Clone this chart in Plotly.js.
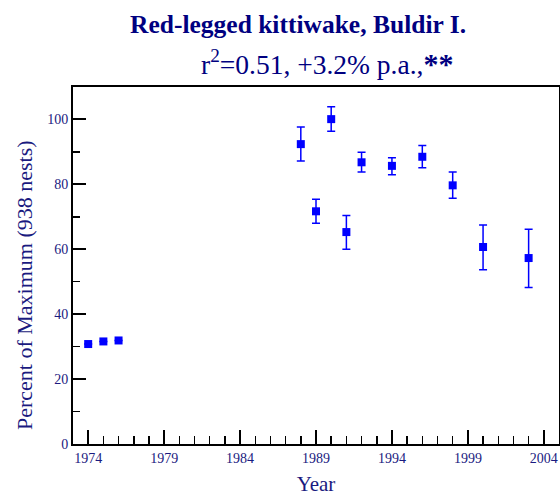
<!DOCTYPE html>
<html>
<head>
<meta charset="utf-8">
<script src="https://cdn.plot.ly/plotly-3.0.1.min.js"></script>
<style>html,body{margin:0;padding:0;background:#fff;}#chart{width:560px;height:500px;}</style>
</head>
<body>
<div id="chart"></div>
<script>
const years = [1974, 1975, 1976, 1988, 1989, 1990, 1991, 1992, 1994, 1996, 1998, 2000, 2003];
const percent = [30.8, 31.6, 31.9, 92.4, 71.7, 100.1, 65.3, 86.8, 85.7, 88.5, 79.7, 60.7, 57.3];
const errPlus = [0, 0, 0, 5.3, 3.7, 3.8, 5.1, 3.1, 2.5, 3.5, 4.1, 6.8, 8.9];
const errMinus = [0, 0, 0, 5.2, 3.7, 3.7, 5.3, 3.0, 2.7, 3.4, 4.0, 7.0, 9.1];
const xTickVals = [1974, 1979, 1984, 1989, 1994, 1999, 2004];
const titleLine1 = '<b>Red-legged kittiwake, Buldir I.</b>';
const titleLine2 = 'r<sup>2</sup>=0.51, +3.2% p.a.,<b><span style="font-size:30px">**</span></b>';
const yTitle = 'Percent of Maximum (938 nests)';

const navy = '#1a1a80';
const serif = 'Liberation Serif, Times New Roman, serif';
const trace = {
  x: years, y: percent, type: 'scatter', mode: 'markers',
  marker: {symbol: 'square', size: 8, color: '#0000ff'},
  error_y: {type: 'data', symmetric: false, array: errPlus, arrayminus: errMinus,
            color: '#0000ff', thickness: 1.5, width: 4}
};
const layout = {
  width: 560, height: 500,
  margin: {l: 73, r: 1, t: 87, b: 56},
  paper_bgcolor: '#fff', plot_bgcolor: '#fff',
  showlegend: false,
  font: {family: serif, color: navy},
  annotations: [
    {text: titleLine1, xref: 'paper', yref: 'paper', x: 0.463, y: 1.176,
     xanchor: 'center', yanchor: 'middle', showarrow: false,
     font: {size: 25.5, color: '#000080', family: serif}},
    {text: titleLine2, xref: 'paper', yref: 'paper', x: 0.522, y: 1.07,
     xanchor: 'center', yanchor: 'middle', showarrow: false,
     font: {size: 27.5, color: '#000080', family: serif}},
    {text: yTitle, xref: 'paper', yref: 'paper', x: -0.101, y: 0.445,
     xanchor: 'center', yanchor: 'middle', textangle: -90, showarrow: false,
     font: {size: 22, color: navy, family: serif}}
  ],
  xaxis: {
    range: [1973, 2005], tickvals: xTickVals, ticktext: xTickVals.map(String),
    ticks: 'inside', ticklen: 14, tickwidth: 2, tickcolor: '#000',
    minor: {dtick: 1, tick0: 1974, ticks: 'inside', ticklen: 8, tickwidth: 1.5, tickcolor: '#000'},
    showline: true, linecolor: '#000', linewidth: 2, mirror: true,
    showgrid: false, zeroline: false,
    tickfont: {size: 14, color: navy},
    title: {text: 'Year', font: {size: 21, color: navy}, standoff: 12}
  },
  yaxis: {
    range: [0, 110], tick0: 0, dtick: 20,
    ticks: 'inside', ticklen: 13, tickwidth: 2, tickcolor: '#000',
    minor: {dtick: 10, tick0: 0, ticks: 'inside', ticklen: 7, tickwidth: 1.5, tickcolor: '#000'},
    showline: true, linecolor: '#000', linewidth: 2, mirror: true,
    showgrid: false, zeroline: false,
    tickfont: {size: 14, color: navy}
  }
};
Plotly.newPlot('chart', [trace], layout, {displayModeBar: false, staticPlot: true});
</script>
</body>
</html>
